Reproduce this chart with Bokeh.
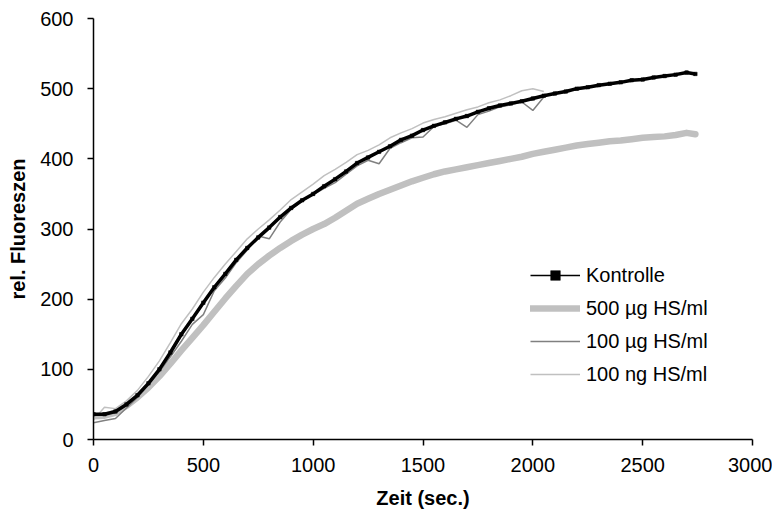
from bokeh.plotting import figure
from bokeh.models import FixedTicker, Legend, LegendItem, ColumnDataSource
from bokeh.embed import file_html
from bokeh.resources import INLINE

# ---- data ----
t_long = [0, 50, 100, 150, 200, 250, 300, 350, 400, 450, 500, 550, 600, 650, 700, 750,
          800, 850, 900, 950, 1000, 1050, 1100, 1150, 1200, 1250, 1300, 1350, 1400, 1450,
          1500, 1550, 1600, 1650, 1700, 1750, 1800, 1850, 1900, 1950, 2000, 2050, 2100,
          2150, 2200, 2250, 2300, 2350, 2400, 2450, 2500, 2550, 2600, 2650, 2700, 2740]

kontrolle = [36, 36, 40, 50, 63, 80, 100, 124, 150, 172, 195, 217, 236, 256, 273, 288,
             302, 317, 330, 341, 350, 361, 371, 382, 394, 402, 410, 418, 427, 433,
             441, 447, 452, 457, 461, 467, 472, 476, 479, 482, 486, 490, 493,
             496, 500, 502, 505, 507, 509, 512, 513, 516, 518, 520, 523, 521]

hs500ug = [33, 34, 38, 48, 60, 74, 90, 108, 127, 145, 163, 182, 201, 219, 236, 250,
           262, 273, 283, 292, 300, 307, 316, 326, 336, 343, 350, 356, 362, 368,
           373, 378, 382, 385, 388, 391, 394, 397, 400, 403, 407, 410, 413,
           416, 419, 421, 423, 425, 426, 428, 430, 431, 432, 434, 437, 435]

t_short = [0, 50, 100, 150, 200, 250, 300, 350, 400, 450, 500, 550, 600, 650, 700, 750,
           800, 850, 900, 950, 1000, 1050, 1100, 1150, 1200, 1250, 1300, 1350, 1400, 1450,
           1500, 1550, 1600, 1650, 1700, 1750, 1800, 1850, 1900, 1950, 2000, 2050]

hs100ug = [24, 27, 30, 45, 60, 78, 97, 118, 140, 164, 178, 212, 230, 252, 270, 290,
           286, 310, 328, 340, 349, 358, 366, 378, 390, 398, 393, 415, 423, 430,
           431, 446, 450, 455, 445, 463, 468, 474, 477, 481, 469, 488]

hs100ng = [28, 46, 44, 55, 70, 90, 112, 138, 165, 186, 210, 231, 250, 268, 286, 300,
           313, 327, 342, 353, 364, 376, 385, 395, 406, 412, 420, 430, 437, 443,
           451, 456, 460, 465, 470, 474, 480, 484, 490, 497, 500, 496]

x_ticks = [0, 500, 1000, 1500, 2000, 2500, 3000]
y_ticks = [0, 100, 200, 300, 400, 500, 600]
labels = ["Kontrolle", "500 \u00b5g HS/ml", "100 \u00b5g HS/ml", "100 ng HS/ml"]

FONT = "Liberation Sans"
LIGHT = "#c0c0c0"
DARK = "#808080"

p = figure(width=772, height=522, x_range=(0, 3000), y_range=(0, 600),
           output_backend="svg", toolbar_location=None,
           min_border_left=93, min_border_right=20, min_border_top=18, min_border_bottom=83)
p.xgrid.visible = False
p.ygrid.visible = False
p.outline_line_color = None
p.background_fill_color = "white"
p.border_fill_color = "white"

p.xaxis.ticker = FixedTicker(ticks=x_ticks, minor_ticks=[])
p.yaxis.ticker = FixedTicker(ticks=y_ticks, minor_ticks=[])
for ax in (p.xaxis[0], p.yaxis[0]):
    ax.axis_line_color = "black"
    ax.axis_line_width = 1.5
    ax.major_tick_line_color = "black"
    ax.major_tick_line_width = 1.5
    ax.major_tick_out = 6
    ax.major_tick_in = 0
    ax.minor_tick_out = 0
    ax.minor_tick_in = 0
    ax.major_label_text_font = FONT
    ax.major_label_text_font_size = "20px"
    ax.major_label_text_color = "black"
    ax.axis_label_text_font = FONT
    ax.axis_label_text_font_size = "20px"
    ax.axis_label_text_font_style = "bold"
    ax.axis_label_text_color = "black"
p.xaxis.axis_label = "Zeit (sec.)"
p.yaxis.axis_label = "rel. Fluoreszen"
p.xaxis.major_label_standoff = 12
p.yaxis.major_label_standoff = 14
p.xaxis.axis_label_standoff = 12
p.yaxis.axis_label_standoff = 8

src_long = ColumnDataSource(dict(t=t_long, k=kontrolle, g=hs500ug))
src_short = ColumnDataSource(dict(t=t_short, a=hs100ug, b=hs100ng))

r500 = p.line("t", "g", source=src_long, line_color=LIGHT, line_width=6.5,
              line_cap="round", line_join="round")
rng = p.line("t", "b", source=src_short, line_color=LIGHT, line_width=1.5)
rug = p.line("t", "a", source=src_short, line_color=DARK, line_width=1.5)
p.line("t", "k", source=src_long, line_color="black", line_width=3.5, line_join="round")
rk = p.line("t", "k", source=src_long, line_color="black", line_width=1.5)
rm = p.scatter("t", "k", source=src_long, marker="square", size=3.5,
               fill_color="black", line_color="black", line_width=0.5)

legend = Legend(items=[LegendItem(label=labels[0], renderers=[rk, rm]),
                       LegendItem(label=labels[1], renderers=[r500]),
                       LegendItem(label=labels[2], renderers=[rug]),
                       LegendItem(label=labels[3], renderers=[rng])],
                location=(437, 53), orientation="vertical",
                glyph_width=50, glyph_height=24, label_height=24, spacing=9,
                label_standoff=6, padding=0, margin=0,
                border_line_color=None, background_fill_alpha=0,
                label_text_font=FONT, label_text_font_size="20px", label_text_color="black")
p.add_layout(legend, "center")

open("out.html", "w").write(file_html(p, INLINE))
